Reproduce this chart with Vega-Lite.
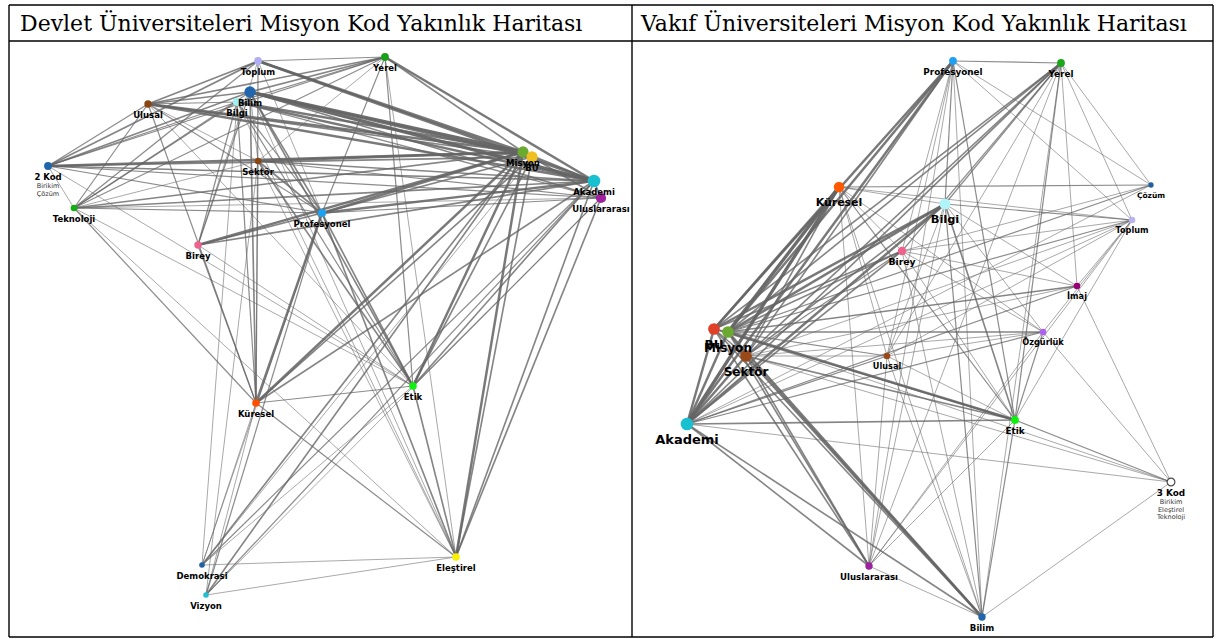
{
"$schema": "https://vega.github.io/schema/vega-lite/v6.json",
"width": 1219, "height": 639,
"autosize": {"type": "fit", "contains": "padding"},
"padding": 0,
"background": "white",
"config": {"view": {"stroke": null}},
"datasets": {
"grid": [
{"x":9,"y":5,"x2":1213,"y2":5},
{"x":9,"y":41,"x2":1213,"y2":41},
{"x":9,"y":637,"x2":1213,"y2":637},
{"x":9,"y":5,"x2":9,"y2":637},
{"x":632,"y":5,"x2":632,"y2":637},
{"x":1213,"y":5,"x2":1213,"y2":637}
],
"titles": [
{"x":20,"y":24,"t":"Devlet Üniversiteleri Misyon Kod Yakınlık Haritası"},
{"x":641,"y":24,"t":"Vakıf Üniversiteleri Misyon Kod Yakınlık Haritası"}
],
"nodes": [
{"key":"D:Toplum","p":"D","label":"Toplum","x":258,"y":61,"f":2},
{"key":"D:Yerel","p":"D","label":"Yerel","x":385,"y":57,"f":2},
{"key":"D:Bilim","p":"D","label":"Bilim","x":250,"y":92,"f":4},
{"key":"D:Bilgi","p":"D","label":"Bilgi","x":237,"y":102,"f":2.2},
{"key":"D:Ulusal","p":"D","label":"Ulusal","x":148,"y":104,"f":1.8},
{"key":"D:2 Kod","p":"D","label":"2 Kod","x":48,"y":166,"f":2,"sub":"Birikim|Çözüm"},
{"key":"D:Teknoloji","p":"D","label":"Teknoloji","x":74,"y":208,"f":1.5},
{"key":"D:Sektör","p":"D","label":"Sektör","x":258,"y":161,"f":1.5},
{"key":"D:Birey","p":"D","label":"Birey","x":198,"y":245,"f":1.8},
{"key":"D:Profesyonel","p":"D","label":"Profesyonel","x":322,"y":213,"f":2.2},
{"key":"D:Misyon","p":"D","label":"Misyon","x":523,"y":152,"f":4},
{"key":"D:BU","p":"D","label":"BU","x":532,"y":157,"f":4},
{"key":"D:Akademi","p":"D","label":"Akademi","x":594,"y":181,"f":5},
{"key":"D:Uluslararası","p":"D","label":"Uluslararası","x":601,"y":198,"f":3.3},
{"key":"D:Küresel","p":"D","label":"Küresel","x":256,"y":403,"f":1.9},
{"key":"D:Etik","p":"D","label":"Etik","x":413,"y":386,"f":1.9},
{"key":"D:Demokrasi","p":"D","label":"Demokrasi","x":202,"y":565,"f":1.1},
{"key":"D:Vizyon","p":"D","label":"Vizyon","x":206,"y":595,"f":1.1},
{"key":"D:Eleştirel","p":"D","label":"Eleştirel","x":456,"y":557,"f":1.9},
{"key":"V:Profesyonel","p":"V","label":"Profesyonel","x":953,"y":61,"f":2},
{"key":"V:Yerel","p":"V","label":"Yerel","x":1061,"y":63,"f":2},
{"key":"V:Küresel","p":"V","label":"Küresel","x":839,"y":187,"f":3.5},
{"key":"V:Çözüm","p":"V","label":"Çözüm","x":1151,"y":185,"f":1},
{"key":"V:Bilgi","p":"V","label":"Bilgi","x":945,"y":204,"f":3.8},
{"key":"V:Toplum","p":"V","label":"Toplum","x":1132,"y":220,"f":1.5},
{"key":"V:Birey","p":"V","label":"Birey","x":902,"y":251,"f":2.3},
{"key":"V:İmaj","p":"V","label":"İmaj","x":1077,"y":286,"f":1.5},
{"key":"V:BU","p":"V","label":"BU","x":714,"y":329,"f":4.3},
{"key":"V:Misyon","p":"V","label":"Misyon","x":728,"y":332,"f":4.3},
{"key":"V:Özgürlük","p":"V","label":"Özgürlük","x":1043,"y":332,"f":1.5},
{"key":"V:Sektör","p":"V","label":"Sektör","x":746,"y":356,"f":4.3},
{"key":"V:Ulusal","p":"V","label":"Ulusal","x":887,"y":356,"f":1.5},
{"key":"V:Akademi","p":"V","label":"Akademi","x":687,"y":424,"f":5},
{"key":"V:Etik","p":"V","label":"Etik","x":1015,"y":420,"f":2},
{"key":"V:3 Kod","p":"V","label":"3 Kod","x":1171,"y":482,"f":2,"sub":"Birikim|Eleştirel|Teknoloji"},
{"key":"V:Uluslararası","p":"V","label":"Uluslararası","x":869,"y":566,"f":1.8},
{"key":"V:Bilim","p":"V","label":"Bilim","x":982,"y":617,"f":1.8}
],
"edges": [
{"a":"D:Toplum","b":"D:Yerel","w":1.5},
{"a":"D:Toplum","b":"D:Ulusal","w":2},
{"a":"D:Toplum","b":"D:2 Kod","w":2},
{"a":"D:Toplum","b":"D:Teknoloji","w":1.5},
{"a":"D:Toplum","b":"D:Sektör","w":1},
{"a":"D:Toplum","b":"D:Misyon","w":3},
{"a":"D:Toplum","b":"D:BU","w":2},
{"a":"D:Toplum","b":"D:Akademi","w":3},
{"a":"D:Toplum","b":"D:Birey","w":1},
{"a":"D:Toplum","b":"D:Küresel","w":1},
{"a":"D:Toplum","b":"D:Profesyonel","w":1},
{"a":"D:Yerel","b":"D:Bilim","w":2},
{"a":"D:Yerel","b":"D:Ulusal","w":2},
{"a":"D:Yerel","b":"D:2 Kod","w":1.5},
{"a":"D:Yerel","b":"D:Teknoloji","w":1.5},
{"a":"D:Yerel","b":"D:Bilgi","w":1.5},
{"a":"D:Yerel","b":"D:Profesyonel","w":1.5},
{"a":"D:Yerel","b":"D:Misyon","w":2},
{"a":"D:Yerel","b":"D:Akademi","w":3},
{"a":"D:Yerel","b":"D:Etik","w":1.5},
{"a":"D:Yerel","b":"D:Eleştirel","w":1},
{"a":"D:Yerel","b":"D:Sektör","w":1},
{"a":"D:Bilim","b":"D:Ulusal","w":2},
{"a":"D:Bilim","b":"D:2 Kod","w":2},
{"a":"D:Bilim","b":"D:Teknoloji","w":1.5},
{"a":"D:Bilim","b":"D:Sektör","w":1},
{"a":"D:Bilim","b":"D:Profesyonel","w":2},
{"a":"D:Bilim","b":"D:Birey","w":1.5},
{"a":"D:Bilim","b":"D:Misyon","w":4},
{"a":"D:Bilim","b":"D:BU","w":3},
{"a":"D:Bilim","b":"D:Akademi","w":4},
{"a":"D:Bilim","b":"D:Uluslararası","w":2},
{"a":"D:Bilim","b":"D:Etik","w":2},
{"a":"D:Bilim","b":"D:Eleştirel","w":1},
{"a":"D:Bilim","b":"D:Küresel","w":2},
{"a":"D:Bilgi","b":"D:Ulusal","w":1.5},
{"a":"D:Bilgi","b":"D:2 Kod","w":1.5},
{"a":"D:Bilgi","b":"D:Teknoloji","w":1.5},
{"a":"D:Bilgi","b":"D:Birey","w":1.5},
{"a":"D:Bilgi","b":"D:Misyon","w":3},
{"a":"D:Bilgi","b":"D:Akademi","w":3},
{"a":"D:Bilgi","b":"D:Uluslararası","w":1.5},
{"a":"D:Bilgi","b":"D:Etik","w":1.5},
{"a":"D:Bilgi","b":"D:Küresel","w":1.5},
{"a":"D:Bilgi","b":"D:Demokrasi","w":1},
{"a":"D:Bilgi","b":"D:Profesyonel","w":1.5},
{"a":"D:Bilgi","b":"D:Eleştirel","w":1},
{"a":"D:Ulusal","b":"D:Misyon","w":3},
{"a":"D:Ulusal","b":"D:BU","w":2},
{"a":"D:Ulusal","b":"D:Akademi","w":3},
{"a":"D:Ulusal","b":"D:2 Kod","w":1.5},
{"a":"D:Ulusal","b":"D:Teknoloji","w":1.5},
{"a":"D:Ulusal","b":"D:Sektör","w":1},
{"a":"D:Ulusal","b":"D:Profesyonel","w":1.5},
{"a":"D:Ulusal","b":"D:Küresel","w":1.5},
{"a":"D:Ulusal","b":"D:Etik","w":1},
{"a":"D:2 Kod","b":"D:Misyon","w":3},
{"a":"D:2 Kod","b":"D:BU","w":2},
{"a":"D:2 Kod","b":"D:Akademi","w":2},
{"a":"D:2 Kod","b":"D:Profesyonel","w":1.5},
{"a":"D:2 Kod","b":"D:Teknoloji","w":1},
{"a":"D:2 Kod","b":"D:Etik","w":1},
{"a":"D:2 Kod","b":"D:Uluslararası","w":1.5},
{"a":"D:Teknoloji","b":"D:Misyon","w":2},
{"a":"D:Teknoloji","b":"D:Akademi","w":2},
{"a":"D:Teknoloji","b":"D:Uluslararası","w":1},
{"a":"D:Teknoloji","b":"D:Profesyonel","w":1.5},
{"a":"D:Teknoloji","b":"D:Sektör","w":1},
{"a":"D:Teknoloji","b":"D:Küresel","w":1.5},
{"a":"D:Teknoloji","b":"D:Etik","w":1},
{"a":"D:Teknoloji","b":"D:Eleştirel","w":1},
{"a":"D:Sektör","b":"D:Misyon","w":3},
{"a":"D:Sektör","b":"D:Akademi","w":2},
{"a":"D:Sektör","b":"D:Uluslararası","w":1.5},
{"a":"D:Sektör","b":"D:Profesyonel","w":2},
{"a":"D:Sektör","b":"D:Küresel","w":1.5},
{"a":"D:Sektör","b":"D:Etik","w":2},
{"a":"D:Sektör","b":"D:Eleştirel","w":1},
{"a":"D:Sektör","b":"D:Vizyon","w":1},
{"a":"D:Birey","b":"D:Misyon","w":3},
{"a":"D:Birey","b":"D:Akademi","w":2},
{"a":"D:Birey","b":"D:Profesyonel","w":2},
{"a":"D:Birey","b":"D:Küresel","w":1.5},
{"a":"D:Birey","b":"D:Etik","w":1},
{"a":"D:Profesyonel","b":"D:Misyon","w":3},
{"a":"D:Profesyonel","b":"D:BU","w":2},
{"a":"D:Profesyonel","b":"D:Akademi","w":3},
{"a":"D:Profesyonel","b":"D:Uluslararası","w":1.5},
{"a":"D:Profesyonel","b":"D:Küresel","w":3},
{"a":"D:Profesyonel","b":"D:Etik","w":2},
{"a":"D:Profesyonel","b":"D:Eleştirel","w":2},
{"a":"D:Profesyonel","b":"D:Demokrasi","w":1},
{"a":"D:Profesyonel","b":"D:Vizyon","w":1.5},
{"a":"D:Misyon","b":"D:BU","w":2},
{"a":"D:Misyon","b":"D:Akademi","w":2},
{"a":"D:Misyon","b":"D:Uluslararası","w":2},
{"a":"D:Misyon","b":"D:Küresel","w":3},
{"a":"D:Misyon","b":"D:Etik","w":3},
{"a":"D:Misyon","b":"D:Eleştirel","w":3},
{"a":"D:Misyon","b":"D:Demokrasi","w":2},
{"a":"D:Misyon","b":"D:Vizyon","w":2},
{"a":"D:BU","b":"D:Akademi","w":2},
{"a":"D:BU","b":"D:Etik","w":2},
{"a":"D:BU","b":"D:Eleştirel","w":2},
{"a":"D:BU","b":"D:Küresel","w":2},
{"a":"D:BU","b":"D:Demokrasi","w":1},
{"a":"D:Akademi","b":"D:Uluslararası","w":2},
{"a":"D:Akademi","b":"D:Etik","w":2},
{"a":"D:Akademi","b":"D:Eleştirel","w":2},
{"a":"D:Akademi","b":"D:Küresel","w":2},
{"a":"D:Akademi","b":"D:Demokrasi","w":1.5},
{"a":"D:Akademi","b":"D:Vizyon","w":1.5},
{"a":"D:Uluslararası","b":"D:Eleştirel","w":2},
{"a":"D:Uluslararası","b":"D:Etik","w":1.5},
{"a":"D:Uluslararası","b":"D:Vizyon","w":1},
{"a":"D:Küresel","b":"D:Etik","w":1.5},
{"a":"D:Küresel","b":"D:Eleştirel","w":1.5},
{"a":"D:Küresel","b":"D:Demokrasi","w":1},
{"a":"D:Küresel","b":"D:Vizyon","w":1},
{"a":"D:Etik","b":"D:Eleştirel","w":2},
{"a":"D:Etik","b":"D:Demokrasi","w":1},
{"a":"D:Eleştirel","b":"D:Demokrasi","w":1},
{"a":"D:Eleştirel","b":"D:Vizyon","w":1},
{"a":"V:Profesyonel","b":"V:Yerel","w":1.5},
{"a":"V:Profesyonel","b":"V:Misyon","w":3},
{"a":"V:Profesyonel","b":"V:BU","w":3},
{"a":"V:Profesyonel","b":"V:Akademi","w":3},
{"a":"V:Profesyonel","b":"V:Sektör","w":2},
{"a":"V:Profesyonel","b":"V:Bilgi","w":1.5},
{"a":"V:Profesyonel","b":"V:Birey","w":1},
{"a":"V:Profesyonel","b":"V:Etik","w":1.5},
{"a":"V:Profesyonel","b":"V:Bilim","w":1},
{"a":"V:Profesyonel","b":"V:Toplum","w":1},
{"a":"V:Profesyonel","b":"V:Çözüm","w":1},
{"a":"V:Profesyonel","b":"V:Ulusal","w":1},
{"a":"V:Profesyonel","b":"V:Uluslararası","w":1},
{"a":"V:Yerel","b":"V:Misyon","w":2},
{"a":"V:Yerel","b":"V:BU","w":2},
{"a":"V:Yerel","b":"V:Akademi","w":2},
{"a":"V:Yerel","b":"V:Sektör","w":2},
{"a":"V:Yerel","b":"V:Bilgi","w":1.5},
{"a":"V:Yerel","b":"V:Birey","w":1.5},
{"a":"V:Yerel","b":"V:Ulusal","w":1},
{"a":"V:Yerel","b":"V:Çözüm","w":1},
{"a":"V:Yerel","b":"V:Toplum","w":1},
{"a":"V:Yerel","b":"V:İmaj","w":1},
{"a":"V:Yerel","b":"V:Etik","w":1.5},
{"a":"V:Yerel","b":"V:Bilim","w":1},
{"a":"V:Yerel","b":"V:Uluslararası","w":1},
{"a":"V:Küresel","b":"V:Misyon","w":4},
{"a":"V:Küresel","b":"V:BU","w":3},
{"a":"V:Küresel","b":"V:Akademi","w":4},
{"a":"V:Küresel","b":"V:Sektör","w":2},
{"a":"V:Küresel","b":"V:Çözüm","w":1.5},
{"a":"V:Küresel","b":"V:Toplum","w":1},
{"a":"V:Küresel","b":"V:Bilgi","w":1},
{"a":"V:Küresel","b":"V:Birey","w":1},
{"a":"V:Küresel","b":"V:Etik","w":1.5},
{"a":"V:Küresel","b":"V:Ulusal","w":1},
{"a":"V:Küresel","b":"V:Özgürlük","w":1},
{"a":"V:Küresel","b":"V:Bilim","w":1},
{"a":"V:Küresel","b":"V:Uluslararası","w":1},
{"a":"V:Bilgi","b":"V:Misyon","w":3},
{"a":"V:Bilgi","b":"V:BU","w":3},
{"a":"V:Bilgi","b":"V:Akademi","w":3},
{"a":"V:Bilgi","b":"V:Sektör","w":2},
{"a":"V:Bilgi","b":"V:Toplum","w":1.5},
{"a":"V:Bilgi","b":"V:Etik","w":2},
{"a":"V:Bilgi","b":"V:Bilim","w":1.5},
{"a":"V:Bilgi","b":"V:Özgürlük","w":1},
{"a":"V:Bilgi","b":"V:Ulusal","w":1},
{"a":"V:Bilgi","b":"V:Uluslararası","w":1},
{"a":"V:Bilgi","b":"V:İmaj","w":1},
{"a":"V:Birey","b":"V:Misyon","w":2},
{"a":"V:Birey","b":"V:BU","w":2},
{"a":"V:Birey","b":"V:Akademi","w":2},
{"a":"V:Birey","b":"V:Sektör","w":1.5},
{"a":"V:Birey","b":"V:Etik","w":1},
{"a":"V:Birey","b":"V:Toplum","w":1},
{"a":"V:Birey","b":"V:Çözüm","w":1},
{"a":"V:Birey","b":"V:Bilim","w":1},
{"a":"V:Birey","b":"V:İmaj","w":1},
{"a":"V:Birey","b":"V:Özgürlük","w":1},
{"a":"V:İmaj","b":"V:Misyon","w":2},
{"a":"V:İmaj","b":"V:Akademi","w":1.5},
{"a":"V:İmaj","b":"V:Toplum","w":1},
{"a":"V:İmaj","b":"V:3 Kod","w":1},
{"a":"V:İmaj","b":"V:Sektör","w":1},
{"a":"V:Özgürlük","b":"V:Misyon","w":2},
{"a":"V:Özgürlük","b":"V:Akademi","w":1.5},
{"a":"V:Özgürlük","b":"V:Toplum","w":1},
{"a":"V:Özgürlük","b":"V:Etik","w":1.5},
{"a":"V:Özgürlük","b":"V:3 Kod","w":1},
{"a":"V:Özgürlük","b":"V:Ulusal","w":1},
{"a":"V:Özgürlük","b":"V:Sektör","w":1},
{"a":"V:Etik","b":"V:Misyon","w":3},
{"a":"V:Etik","b":"V:BU","w":2},
{"a":"V:Etik","b":"V:Akademi","w":2},
{"a":"V:Etik","b":"V:Sektör","w":2},
{"a":"V:Etik","b":"V:Ulusal","w":1},
{"a":"V:Etik","b":"V:3 Kod","w":1.5},
{"a":"V:Etik","b":"V:Uluslararası","w":1},
{"a":"V:Etik","b":"V:Bilim","w":1.5},
{"a":"V:Etik","b":"V:Toplum","w":1},
{"a":"V:Akademi","b":"V:Misyon","w":3},
{"a":"V:Akademi","b":"V:BU","w":3},
{"a":"V:Akademi","b":"V:Sektör","w":3},
{"a":"V:Akademi","b":"V:Uluslararası","w":2},
{"a":"V:Akademi","b":"V:Bilim","w":2},
{"a":"V:Akademi","b":"V:3 Kod","w":1},
{"a":"V:Akademi","b":"V:Ulusal","w":1.5},
{"a":"V:Akademi","b":"V:Çözüm","w":1},
{"a":"V:Akademi","b":"V:Toplum","w":1},
{"a":"V:Misyon","b":"V:BU","w":2},
{"a":"V:Misyon","b":"V:Sektör","w":2},
{"a":"V:Misyon","b":"V:Ulusal","w":1.5},
{"a":"V:Misyon","b":"V:Bilim","w":3},
{"a":"V:Misyon","b":"V:Uluslararası","w":2},
{"a":"V:Misyon","b":"V:Toplum","w":1.5},
{"a":"V:Misyon","b":"V:Çözüm","w":1.5},
{"a":"V:Misyon","b":"V:3 Kod","w":1},
{"a":"V:BU","b":"V:Sektör","w":2},
{"a":"V:BU","b":"V:Bilim","w":2},
{"a":"V:BU","b":"V:Uluslararası","w":2},
{"a":"V:Sektör","b":"V:Bilim","w":3},
{"a":"V:Sektör","b":"V:Uluslararası","w":2},
{"a":"V:Sektör","b":"V:Ulusal","w":1},
{"a":"V:Sektör","b":"V:Toplum","w":1},
{"a":"V:Sektör","b":"V:3 Kod","w":1},
{"a":"V:Ulusal","b":"V:Bilim","w":1},
{"a":"V:Ulusal","b":"V:Uluslararası","w":1},
{"a":"V:Ulusal","b":"V:Toplum","w":1},
{"a":"V:Bilim","b":"V:3 Kod","w":1},
{"a":"V:Bilim","b":"V:Uluslararası","w":1},
{"a":"V:Uluslararası","b":"V:Özgürlük","w":1},
{"a":"V:Uluslararası","b":"V:Toplum","w":1}
]
},
"resolve": {"scale": {"size": "independent", "opacity": "independent", "strokeWidth": "independent"}},
"layer": [
{
"data": {"name": "edges"},
"transform": [
{"lookup": "a", "from": {"data": {"name": "nodes"}, "key": "key", "fields": ["x", "y"]}, "as": ["xa", "ya"]},
{"lookup": "b", "from": {"data": {"name": "nodes"}, "key": "key", "fields": ["x", "y"]}, "as": ["xb", "yb"]}
],
"mark": {"type": "rule", "color": "#646464"},
"encoding": {
"x": {"field": "xa", "type": "quantitative", "scale": {"domain": [0, 1219], "nice": false, "zero": false}, "axis": null},
"y": {"field": "ya", "type": "quantitative", "scale": {"domain": [0, 639], "reverse": true, "nice": false, "zero": false}, "axis": null},
"x2": {"field": "xb"},
"y2": {"field": "yb"},
"strokeWidth": {"field": "w", "type": "quantitative", "scale": {"domain": [1, 4], "range": [0.8, 3.3]}, "legend": null},
"opacity": {"field": "w", "type": "quantitative", "scale": {"domain": [1, 4], "range": [0.7, 0.95]}, "legend": null}
}
},
{
"data": {"name": "grid"},
"mark": {"type": "rule", "color": "#000000", "strokeWidth": 1.4},
"encoding": {
"x": {"field": "x", "type": "quantitative", "axis": null},
"y": {"field": "y", "type": "quantitative", "axis": null},
"x2": {"field": "x2"},
"y2": {"field": "y2"}
}
},
{
"data": {"name": "titles"},
"mark": {"type": "text", "align": "left", "baseline": "middle", "font": "DejaVu Serif", "fontSize": 22, "color": "#000000"},
"encoding": {
"x": {"field": "x", "type": "quantitative", "axis": null},
"y": {"field": "y", "type": "quantitative", "axis": null},
"text": {"field": "t"}
}
},
{
"data": {"name": "nodes"},
"mark": {"type": "point", "shape": "circle", "filled": true, "opacity": 1},
"encoding": {
"x": {"field": "x", "type": "quantitative", "axis": null},
"y": {"field": "y", "type": "quantitative", "axis": null},
"size": {"field": "f", "type": "quantitative", "scale": {"domain": [1, 5], "range": [28, 160]}, "legend": null},
"color": {"field": "key", "type": "nominal", "legend": null, "scale": {
"domain": ["D:Toplum","D:Yerel","D:Bilim","D:Bilgi","D:Ulusal","D:2 Kod","D:Teknoloji","D:Sektör","D:Birey","D:Profesyonel","D:Misyon","D:BU","D:Akademi","D:Uluslararası","D:Küresel","D:Etik","D:Demokrasi","D:Vizyon","D:Eleştirel","V:Profesyonel","V:Yerel","V:Küresel","V:Çözüm","V:Bilgi","V:Toplum","V:Birey","V:İmaj","V:BU","V:Misyon","V:Özgürlük","V:Sektör","V:Ulusal","V:Akademi","V:Etik","V:3 Kod","V:Uluslararası","V:Bilim"],
"range": ["#b0aef5","#18a018","#2166ac","#9ff0f5","#8b4513","#2166ac","#10b010","#8b4513","#f0608c","#1ea0f0","#6aaa30","#f0c020","#18c0d0","#a020a0","#ff5000","#10f010","#2060a8","#20c0d0","#f8f000","#20a0f0","#18a818","#ff5a00","#2060a0","#b0f4f8","#b8b4f0","#f0608c","#990077","#e04028","#6aaa30","#b060f0","#9a4a18","#9a4a18","#18c0d0","#10f010","#ffffff","#a020a0","#2166ac"]}}
}
},
{
"data": {"name": "nodes"},
"transform": [{"filter": "datum.key == 'V:3 Kod'"}],
"mark": {"type": "point", "shape": "circle", "filled": false, "color": "#000000", "strokeWidth": 1.2, "size": 60},
"encoding": {
"x": {"field": "x", "type": "quantitative", "axis": null},
"y": {"field": "y", "type": "quantitative", "axis": null}
}
},
{
"data": {"name": "nodes"},
"transform": [{"filter": "datum.p == 'D'"}],
"mark": {"type": "text", "baseline": "top", "dy": 6.5, "font": "DejaVu Sans", "fontWeight": "bold", "fontSize": 8.5, "color": "#000000"},
"encoding": {
"x": {"field": "x", "type": "quantitative", "axis": null},
"y": {"field": "y", "type": "quantitative", "axis": null},
"text": {"field": "label"}
}
},
{
"data": {"name": "nodes"},
"transform": [{"filter": "datum.p == 'V' && datum.f < 3.5"}],
"mark": {"type": "text", "baseline": "top", "dy": 7, "font": "DejaVu Sans", "fontWeight": "bold", "color": "#000000"},
"encoding": {
"x": {"field": "x", "type": "quantitative", "axis": null},
"y": {"field": "y", "type": "quantitative", "axis": null},
"size": {"field": "f", "type": "quantitative", "scale": {"domain": [1, 5], "range": [7.5, 13]}, "legend": null},
"text": {"field": "label"}
}
},
{
"data": {"name": "nodes"},
"transform": [{"filter": "datum.p == 'V' && datum.f >= 3.5"}],
"mark": {"type": "text", "baseline": "top", "dy": 10, "font": "DejaVu Sans", "fontWeight": "bold", "color": "#000000"},
"encoding": {
"x": {"field": "x", "type": "quantitative", "axis": null},
"y": {"field": "y", "type": "quantitative", "axis": null},
"size": {"field": "f", "type": "quantitative", "scale": {"domain": [1, 5], "range": [7.5, 13]}, "legend": null},
"text": {"field": "label"}
}
},
{
"data": {"name": "nodes"},
"transform": [{"filter": "isValid(datum.sub)"}],
"mark": {"type": "text", "baseline": "top", "dy": 17, "lineBreak": "|", "lineHeight": 7.5, "font": "DejaVu Sans", "fontSize": 6.5, "color": "#333333"},
"encoding": {
"x": {"field": "x", "type": "quantitative", "axis": null},
"y": {"field": "y", "type": "quantitative", "axis": null},
"text": {"field": "sub"}
}
}
]
}
